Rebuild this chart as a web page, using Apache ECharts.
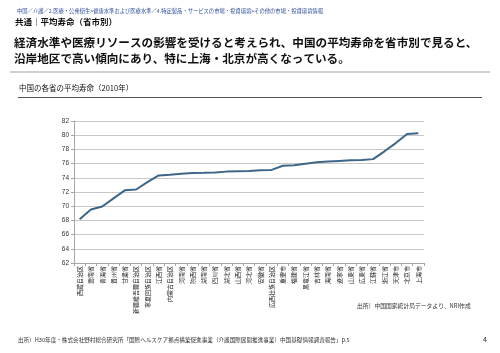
<!DOCTYPE html>
<html><head><meta charset="utf-8">
<script src="https://cdn.jsdelivr.net/npm/echarts@6/dist/echarts.min.js"></script>
<style>html,body{margin:0;padding:0;background:#fff}#c{width:500px;height:353px}</style>
</head><body><div id="c"></div>
<script>
const provinces = ['西蔵自治区','雲南省','青海省','貴州省','甘粛省','新疆維吾爾自治区','寧夏回族自治区','江西省','内蒙古自治区','河南省','陝西省','湖南省','四川省','湖北省','山西省','河北省','安徽省','広西壮族自治区','重慶市','福建省','黒竜江省','吉林省','海南省','遼寧省','山東省','広東省','江蘇省','浙江省','天津市','北京市','上海市'];
const lifeExpectancy = [68.17,69.54,69.96,71.10,72.23,72.35,73.38,74.33,74.44,74.57,74.68,74.70,74.75,74.87,74.92,74.97,75.08,75.11,75.70,75.76,75.98,76.18,76.30,76.38,76.46,76.49,76.63,77.73,78.89,80.18,80.26];
const yMin = 62, yMax = 82, yStep = 2;

const F = '"Noto Sans CJK JP","Noto Sans CJK SC",sans-serif';
const chart = echarts.init(document.getElementById('c'));
chart.setOption({
  animation:false,
  backgroundColor:'#fff',
  textStyle:{fontFamily:F},
  grid:{left:74,right:76,top:121,bottom:90,containLabel:false},
  xAxis:{type:'category',data:provinces,boundaryGap:true,
    axisLine:{lineStyle:{color:'#a6a6a6'}},
    axisTick:{show:true,length:3,lineStyle:{color:'#a6a6a6'}},
    axisLabel:{rotate:90,interval:0,fontSize:6,color:'#222',margin:3,fontFamily:F}},
  yAxis:{type:'value',min:yMin,max:yMax,interval:yStep,
    axisLine:{show:true,lineStyle:{color:'#a6a6a6'}},
    axisTick:{show:true,length:3,lineStyle:{color:'#a6a6a6'}},
    splitLine:{lineStyle:{color:'#c8c8c8'}},
    axisLabel:{fontSize:6.5,color:'#333',margin:5,fontFamily:'Liberation Sans, Arial, sans-serif'}},
  series:[{type:'line',data:lifeExpectancy,showSymbol:false,
    lineStyle:{color:'#3d6688',width:2}}],
  graphic:[
    {type:'text',left:17,top:8,style:{text:'中国／介護／2.医療・公衆衛生>健康水準および医療水準／4.特定製品・サービスの市場・投資環境>その他の市場・投資環境情報',fill:'#2f4f9a',font:'5.3px '+F}},
    {type:'text',left:15,top:18,style:{text:'共通｜平均寿命（省市別）',fill:'#111',font:'bold 8.5px '+F}},
    {type:'text',left:14,top:37,style:{text:'経済水準や医療リソースの影響を受けると考えられ、中国の平均寿命を省市別で見ると、',fill:'#111',font:'bold 11.6px '+F}},
    {type:'text',left:14,top:53,style:{text:'沿岸地区で高い傾向にあり、特に上海・北京が高くなっている。',fill:'#111',font:'bold 11.6px '+F}},
    {type:'rect',shape:{x:10,y:71,width:480,height:2},style:{fill:'#d0d0d0'}},
    {type:'text',left:19,top:84,style:{text:'中国の各省の平均寿命（2010年）',fill:'#111',font:'7.5px '+F}},
    {type:'rect',shape:{x:18,y:97,width:464,height:1},style:{fill:'#555'}},
    {type:'text',left:357,top:303,style:{text:'出所）中国国家統計局データより、NRI作成',fill:'#333',font:'5.8px '+F}},
    {type:'text',left:18,top:337,style:{text:'出所）H30年度・株式会社野村総合研究所「国際ヘルスケア拠点構築促進事業（介護国際展開推進事業）中国基礎情報調査報告」p.5',fill:'#333',font:'5.6px '+F}},
    {type:'text',left:483,top:336,style:{text:'4',fill:'#333',font:'7px '+F}}
  ]
});
</script></body></html>
